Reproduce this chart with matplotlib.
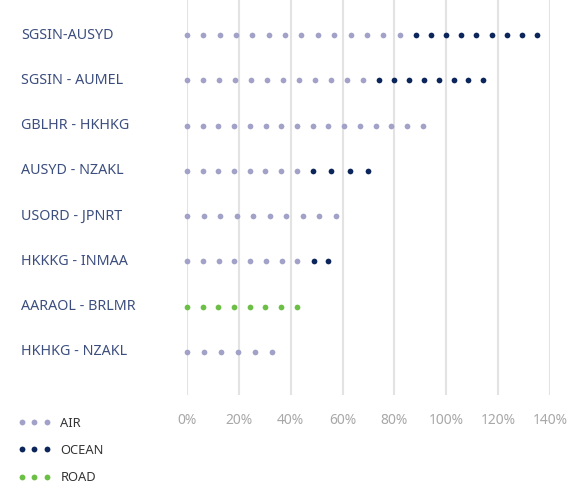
import matplotlib
matplotlib.use("Agg")
import matplotlib.pyplot as plt
import matplotlib.transforms as mtransforms
from matplotlib.lines import Line2D
import numpy as np

plt.rcParams['font.family'] = ['Noto Sans', 'DejaVu Sans']

routes = ['SGSIN-AUSYD', 'SGSIN - AUMEL', 'GBLHR - HKHKG', 'AUSYD - NZAKL',
          'USORD - JPNRT', 'HKKKG - INMAA', 'AARAOL - BRLMR', 'HKHKG - NZAKL']
air = [82.0, 67.7, 90.9, 42.3, 57.4, 42.6, 0.0, 32.9]
ocean = [53.0, 46.6, 0.0, 27.5, 0.0, 11.7, 0.0, 0.0]
road = [0.0, 0.0, 0.0, 0.0, 0.0, 0.0, 42.3, 0.0]
xticks = [0, 20, 40, 60, 80, 100, 120, 140]

c_air = '#a2a2c8'
c_ocean = '#0c255a'
c_road = '#6cbf45'
label_col = '#3c4e7e'

gap = 6.3  # spacing between dots, in %


def dots(start, end):
    n = int(round((end - start) / 6.2)) + 1
    return np.linspace(start, end, max(n, 2))


fig = plt.figure(figsize=(5.72, 4.83), dpi=100)
ax = fig.add_axes([187 / 572, 88 / 483, 363 / 572, 395 / 483])

for i, name in enumerate(routes):
    start = 0.0
    for val, col in [(air[i], c_air), (road[i], c_road), (ocean[i], c_ocean)]:
        if val <= 0:
            continue
        s = start if start == 0 else start + gap
        e = start + val
        xs = dots(s, e)
        ax.scatter(xs, np.full(len(xs), i), s=17, color=col, zorder=3,
                   clip_on=False, linewidths=0)
        start = e

ax.set_xlim(0, 140)
ax.set_ylim(7.95, -0.773)
ax.set_xticks(xticks)
ax.set_xticklabels([f'{t}%' for t in xticks])
ax.set_yticks([])
ax.grid(axis='x', color='#e3e3e3', linewidth=1.5)
ax.set_axisbelow(True)
for sp in ax.spines.values():
    sp.set_visible(False)
ax.tick_params(axis='x', length=0, pad=13, labelsize=10, labelcolor='#a8a8a8')

trans = mtransforms.blended_transform_factory(fig.transFigure, ax.transData)
for i, name in enumerate(routes):
    fig.text(21 / 572, i, name, transform=trans, ha='left', va='center',
             fontsize=10.3, color=label_col)

handles = [Line2D([], [], marker='o', ls='none', color=c, markersize=4.2, markeredgewidth=0)
           for c in (c_air, c_ocean, c_road)]
fig.legend(handles, ['AIR', 'OCEAN', 'ROAD'], loc='upper left',
           bbox_to_anchor=(6 / 572, 78 / 483), frameon=False, numpoints=3,
           handlelength=2.6, handletextpad=0.7, labelspacing=1.1,
           fontsize=9.3, labelcolor='#333333')

fig.savefig('out.png', dpi=100)
